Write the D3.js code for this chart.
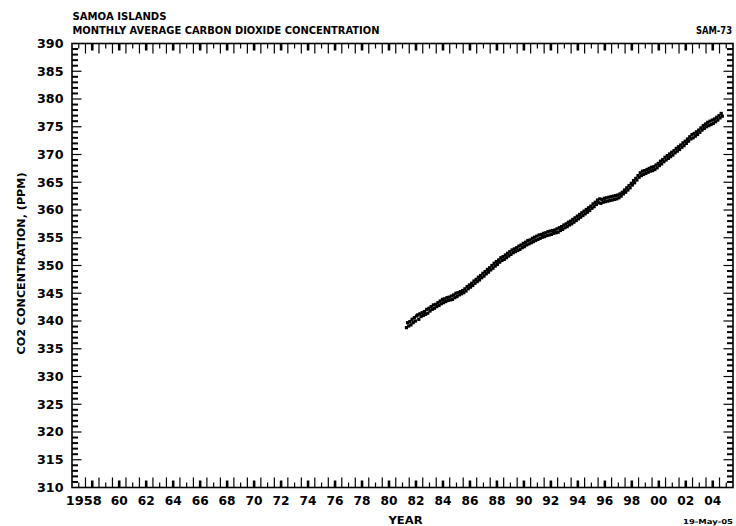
<!DOCTYPE html>
<html>
<head>
<meta charset="utf-8">
<script src="https://cdn.jsdelivr.net/npm/d3@7"></script>
<style>
  body { margin: 0; background: #fff; }
  svg { display: block; }
  text { font-family: "DejaVu Sans", "Liberation Sans", sans-serif; font-weight: bold; fill: #000; }
</style>
</head>
<body>
<svg id="chart" width="736" height="526"></svg>
<script>
// ---- chart text ----
const titleLines = ["SAMOA ISLANDS", "MONTHLY AVERAGE CARBON DIOXIDE CONCENTRATION"];
const stationCode = "SAM-73";
const runDate = "19-May-05";
const xTitle = "YEAR";
const yTitle = "CO2 CONCENTRATION, (PPM)";

// ---- axes ----
const yearDomain = [1957, 2006];
const ppmDomain = [310, 390];
const yearLabels = d3.range(1958, 2005, 2);      // labelled every second year
const ppmLabels = d3.range(310, 391, 5);

// ---- monthly averages, Oct 1981 .. Mar 2005 ----
const firstYear = 1981, firstMonth = 10;
const monthlyCO2 = [
  338.8, 339.7, 339.1,
  339.9, 339.3, 340.3, 339.7, 340.6, 340.0, 340.9, 341.1, 340.3, 341.3, 340.8, 341.5,
  341.0, 341.7, 341.2, 342.1, 341.4, 342.3, 341.8, 342.6, 342.1, 342.9, 342.3, 343.0,
  342.6, 343.3, 342.8, 343.6, 343.1, 343.9, 343.3, 344.0, 343.5, 344.2, 343.7, 344.3,
  343.8, 344.5, 343.9, 344.7, 344.2, 345.0, 344.4, 345.1, 344.7, 345.3, 344.9, 345.5,
  345.1, 345.8, 345.4, 346.2, 345.8, 346.5, 346.1, 346.8, 346.4, 347.2, 346.8, 347.5,
  347.1, 347.9, 347.4, 348.2, 347.8, 348.6, 348.1, 348.9, 348.5, 349.3, 348.8, 349.6,
  349.2, 350.0, 349.5, 350.4, 349.9, 350.7, 350.2, 351.0, 350.6, 351.4, 350.9, 351.6,
  351.1, 351.9, 351.4, 352.2, 351.7, 352.5, 352.0, 352.8, 352.3, 353.0, 352.5, 353.2,
  352.7, 353.5, 352.9, 353.7, 353.2, 354.0, 353.4, 354.2, 353.7, 354.5, 353.9, 354.6,
  354.1, 354.9, 354.3, 355.1, 354.5, 355.3, 354.7, 355.5, 354.9, 355.6, 355.1, 355.8,
  355.2, 355.9, 355.4, 356.1, 355.5, 356.2, 355.6, 356.3, 355.8, 356.4, 355.9, 356.6,
  356.0, 356.8, 356.3, 357.0, 356.5, 357.3, 356.8, 357.5, 357.0, 357.8, 357.3, 358.0,
  357.5, 358.3, 357.8, 358.6, 358.1, 358.9, 358.4, 359.2, 358.7, 359.5, 359.0, 359.8,
  359.3, 360.1, 359.6, 360.4, 359.9, 360.7, 360.3, 361.1, 360.6, 361.4, 361.0, 361.8,
  361.3, 362.0, 361.2, 361.9, 361.4, 362.1, 361.5, 362.2, 361.6, 362.3, 361.7, 362.4,
  361.8, 362.5, 361.9, 362.6, 362.0, 362.7, 362.2, 362.9, 362.5, 363.2, 362.9, 363.6,
  363.2, 364.0, 363.6, 364.4, 364.0, 364.8, 364.5, 365.3, 364.9, 365.7, 365.4, 366.2,
  365.9, 366.7, 366.2, 367.0, 366.4, 367.1, 366.6, 367.3, 366.8, 367.5, 367.0, 367.7,
  367.1, 367.8, 367.3, 368.1, 367.6, 368.4, 368.0, 368.8, 368.3, 369.1, 368.7, 369.5,
  369.0, 369.8, 369.3, 370.1, 369.6, 370.4, 369.9, 370.7, 370.3, 371.1, 370.6, 371.4,
  370.9, 371.7, 371.3, 372.1, 371.6, 372.4, 372.0, 372.8, 372.4, 373.2, 372.8, 373.6,
  373.0, 373.8, 373.3, 374.1, 373.6, 374.4, 374.0, 374.8, 374.4, 375.2, 374.7, 375.5,
  375.0, 375.8, 375.2, 376.0, 375.4, 376.2, 375.6, 376.4, 375.9, 376.7, 376.2, 377.0,
  376.6, 377.4, 376.9
];

// ---- layout ----
const frame = { left: 72, right: 733, top: 43.5, bottom: 487.5 };
const svg = d3.select("#chart");

const x = d3.scaleLinear().domain(yearDomain).range([frame.left, frame.right]);
const y = d3.scaleLinear().domain(ppmDomain).range([frame.bottom, frame.top]);

// ---- time-axis ticks: every half year, on bottom and top edges ----
const halfYears = d3.range(yearDomain[0] * 2 + 1, yearDomain[1] * 2).map(v => v / 2);
function yearTick(t) {
  if (Number.isInteger(t)) return { len: 10, w: 1.2 };           // year boundary
  if (Math.floor(t) % 2 === 0) return { len: 7, w: 2.6 };        // labelled year
  return { len: 5, w: 1.2 };
}
const tickG = svg.append("g").attr("stroke", "#000");
halfYears.forEach(t => {
  const s = yearTick(t), px = x(t);
  tickG.append("line").attr("x1", px).attr("x2", px)
    .attr("y1", frame.bottom).attr("y2", frame.bottom - s.len).attr("stroke-width", s.w);
  tickG.append("line").attr("x1", px).attr("x2", px)
    .attr("y1", frame.top).attr("y2", frame.top + s.len).attr("stroke-width", s.w);
});

// ---- concentration ticks: every 1 ppm, major every 5, on left and right edges ----
d3.range(ppmDomain[0] + 1, ppmDomain[1]).forEach(v => {
  const major = v % 5 === 0;
  const len = major ? 9.5 : 6, w = major ? 1.2 : 2;
  const py = y(v);
  tickG.append("line").attr("x1", frame.left).attr("x2", frame.left + len)
    .attr("y1", py).attr("y2", py).attr("stroke-width", w);
  tickG.append("line").attr("x1", frame.right).attr("x2", frame.right - len)
    .attr("y1", py).attr("y2", py).attr("stroke-width", w);
});

// ---- frame ----
svg.append("rect")
  .attr("x", frame.left).attr("y", frame.top)
  .attr("width", frame.right - frame.left).attr("height", frame.bottom - frame.top)
  .attr("fill", "none").attr("stroke", "#000").attr("stroke-width", 1.6);

// ---- tick labels ----
svg.append("g").selectAll("text").data(ppmLabels).join("text")
  .attr("x", 63.5).attr("y", d => y(d) + 4.3)
  .attr("text-anchor", "end")
  .attr("font-size", 11.5)
  .attr("textLength", 26.5).attr("lengthAdjust", "spacingAndGlyphs")
  .text(d => d);

svg.append("g").selectAll("text").data(yearLabels).join("text")
  .attr("x", (d, i) => i === 0 ? x(d + 0.5) + 9.5 : x(d + 0.5))
  .attr("y", 505)
  .attr("text-anchor", (d, i) => i === 0 ? "end" : "middle")
  .attr("font-size", 11.5)
  .attr("textLength", (d, i) => i === 0 ? 36 : 17).attr("lengthAdjust", "spacingAndGlyphs")
  .text((d, i) => i === 0 ? String(d) : String(d % 100).padStart(2, "0"));

// ---- titles ----
svg.append("text").attr("x", 72.5).attr("y", 19.5).attr("font-size", 9.6)
  .attr("textLength", 94).attr("lengthAdjust", "spacingAndGlyphs").text(titleLines[0]);
svg.append("text").attr("x", 72.5).attr("y", 33.5).attr("font-size", 9.6)
  .attr("textLength", 307).attr("lengthAdjust", "spacingAndGlyphs").text(titleLines[1]);
svg.append("text").attr("x", 732).attr("y", 33.5).attr("font-size", 9.6)
  .attr("text-anchor", "end")
  .attr("textLength", 36).attr("lengthAdjust", "spacingAndGlyphs").text(stationCode);

svg.append("text").attr("x", (frame.left + frame.right) / 2 + 3).attr("y", 524)
  .attr("text-anchor", "middle").attr("font-size", 10)
  .attr("textLength", 34).attr("lengthAdjust", "spacingAndGlyphs").text(xTitle);

svg.append("text").attr("x", 733).attr("y", 523.5)
  .attr("text-anchor", "end").attr("font-size", 6.8)
  .attr("textLength", 50).attr("lengthAdjust", "spacingAndGlyphs").text(runDate);

svg.append("text")
  .attr("transform", `translate(25,${(frame.top + frame.bottom) / 2 - 2}) rotate(-90)`)
  .attr("text-anchor", "middle").attr("font-size", 10.5)
  .attr("textLength", 182).attr("lengthAdjust", "spacingAndGlyphs").text(yTitle);

// ---- monthly points ----
const points = monthlyCO2.map((v, i) => {
  const m = firstMonth - 1 + i;
  return { t: firstYear + Math.floor(m / 12) + ((m % 12) + 0.5) / 12, v };
});
svg.append("g").selectAll("rect").data(points).join("rect")
  .attr("x", d => x(d.t) - 1.6).attr("y", d => y(d.v) - 1.6)
  .attr("width", 3.2).attr("height", 3.2)
  .attr("fill", "#000");
</script>
</body>
</html>
